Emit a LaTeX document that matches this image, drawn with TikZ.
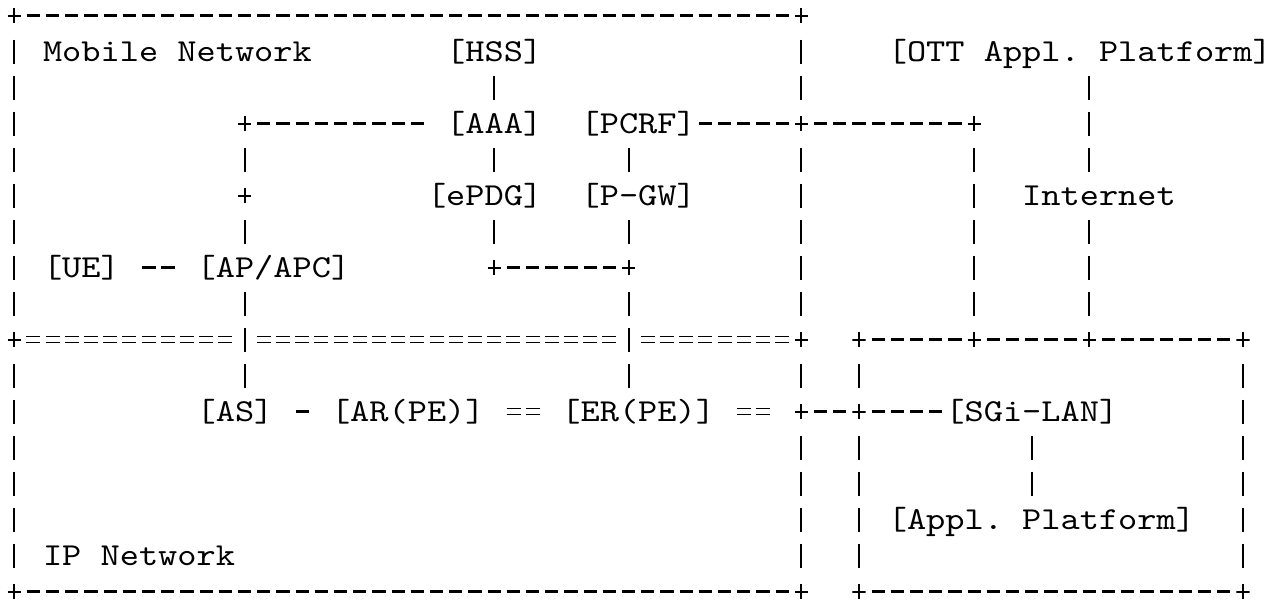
\documentclass[tikz,border=0pt]{standalone}
\usepackage{fontspec}
\usetikzlibrary{decorations.markings}

\newfontfamily\asciifont[FakeStretch=1.142857]{lmmono10-regular.otf}

\tikzset{
    txt/.style={font=\asciifont\fontsize{24pt}{27pt}\selectfont\frenchspacing, inner sep=0pt, text height=14.7pt, text depth=0pt},
    jn/.style={inner sep=0pt, minimum width=10pt, minimum height=11.5pt, path picture={\draw[line width=1.5pt] (path picture bounding box.west) -- (path picture bounding box.east) (path picture bounding box.north) -- (path picture bounding box.south);}},
    dashrun/.style={decoration={markings, mark=between positions 14.4pt and -4.3pt step 14.4pt with {\draw[line width=1.8pt] (-5pt,0) -- (5pt,0);}}, decorate},
    barrun/.style={decoration={markings, mark=between positions 27pt and -8pt step 27pt with {\draw[line width=1.5pt] (-9pt,0) -- (9pt,0);}}, decorate},
    eqrun/.style={decoration={markings, mark=between positions 14.4pt and -4.3pt step 14.4pt with {\draw[line width=1.2pt] (-5.25pt,2.25pt) -- (5.25pt,2.25pt) (-5.25pt,-2.25pt) -- (5.25pt,-2.25pt);}}, decorate}
}

\begin{document}
\begin{tikzpicture}[x=14.4pt, y=-27pt]
        \useasboundingbox[fill=white] (-0.7396,-0.4306) rectangle (65.458,16.236);
        % corners and junctions
        \node[jn] (mob_tl) at (0,0) {};
        \node[jn] (mob_tr) at (41,0) {};
        \node[jn] (aaa_l) at (12,3) {};
        \node[jn] (pcrf_r) at (41,3) {};
        \node[jn] (inet_l) at (50,3) {};
        \node[jn] (ap_up) at (12,5) {};
        \node[jn] (epdg_b) at (25,7) {};
        \node[jn] (pgw_b) at (32,7) {};
        \node[jn] (mob_bl) at (0,9) {};
        \node[jn] (mob_br) at (41,9) {};
        \node[jn] (lan_tl) at (44,9) {};
        \node[jn] (lan_t1) at (50,9) {};
        \node[jn] (lan_t2) at (56,9) {};
        \node[jn] (lan_tr) at (64,9) {};
        \node[jn] (er_r) at (41,11) {};
        \node[jn] (sgi_l) at (44,11) {};
        \node[jn] (ip_bl) at (0,16) {};
        \node[jn] (ip_br) at (41,16) {};
        \node[jn] (lan_bl) at (44,16) {};
        \node[jn] (lan_br) at (64,16) {};
        \coordinate (x_ap) at (12,9);
        \coordinate (x_pgw) at (32,9);
        % labels
        \node[txt] (mob_net) at (8.5,1) {Mobile Network};
        \node[txt] (hss) at (25,1) {[HSS]};
        \node[txt] (ott) at (55.5,1) {[OTT Appl. Platform]};
        \node[txt] (aaa) at (25,3) {[AAA]};
        \node[txt] (pcrf) at (32.5,3) {[PCRF]};
        \node[txt] (epdg) at (24.5,5) {[ePDG]};
        \node[txt] (p_gw) at (32.5,5) {[P-GW]};
        \node[txt] (inet) at (56.5,5) {Internet};
        \node[txt] (ue) at (3.5,7) {[UE]};
        \node[txt] (ap_apc) at (13.5,7) {[AP/APC]};
        \node[txt] (as_srv) at (11.5,11) {[AS]};
        \node[txt] (ar_pe) at (20.5,11) {[AR(PE)]};
        \node[txt] (er_pe) at (32.5,11) {[ER(PE)]};
        \node[txt] (sgi_lan) at (53,11) {[SGi-LAN]};
        \node[txt] (appl_pf) at (53.5,14) {[Appl. Platform]};
        \node[txt] (ip_net) at (6.5,15) {IP Network};
        % - runs
        \draw[dashrun] (mob_tl.center) -- (mob_tr.center);
        \draw[dashrun] (aaa_l.center) -- ([xshift=-14.4pt]aaa.west);
        \draw[dashrun] (pcrf_r.center) -- (pcrf.east);
        \draw[dashrun] (pcrf_r.center) -- (inet_l.center);
        \draw[dashrun] ([xshift=7.2pt]ue.east) -- ([xshift=-14.4pt]ap_apc.west);
        \draw[dashrun] (epdg_b.center) -- (pgw_b.center);
        \draw[dashrun] (lan_tl.center) -- (lan_t1.center);
        \draw[dashrun] (lan_t1.center) -- (lan_t2.center);
        \draw[dashrun] (lan_t2.center) -- (lan_tr.center);
        \draw[dashrun] ([xshift=7.2pt]as_srv.east) -- ([xshift=-14.4pt]ar_pe.west);
        \draw[dashrun] (er_r.center) -- (sgi_l.center);
        \draw[dashrun] (sgi_l.center) -- (sgi_lan.west);
        \draw[dashrun] (ip_bl.center) -- (ip_br.center);
        \draw[dashrun] (lan_bl.center) -- (lan_br.center);
        % = runs
        \draw[eqrun] (mob_bl.center) -- (x_ap);
        \draw[eqrun] (x_ap) -- (x_pgw);
        \draw[eqrun] (x_pgw) -- (mob_br.center);
        \draw[eqrun] ([xshift=7.2pt]ar_pe.east) -- ([xshift=-14.4pt]er_pe.west);
        \draw[eqrun] ([xshift=7.2pt]er_pe.east) -- ([xshift=-14.4pt]er_r.center);
        % | runs
        \draw[barrun] (mob_tl.center) -- (mob_bl.center);
        \draw[barrun] (mob_bl.center) -- (ip_bl.center);
        \draw[barrun] (mob_tr.center) -- (pcrf_r.center);
        \draw[barrun] (pcrf_r.center) -- (mob_br.center);
        \draw[barrun] (mob_br.center) -- (er_r.center);
        \draw[barrun] (er_r.center) -- (ip_br.center);
        \draw[barrun] (lan_tl.center) -- (sgi_l.center);
        \draw[barrun] (sgi_l.center) -- (lan_bl.center);
        \draw[barrun] (lan_tr.center) -- (lan_br.center);
        \draw[barrun] (inet_l.center) -- (lan_t1.center);
        \draw[barrun] ([xshift=7.2pt]ott.center) -- ([xshift=-7.2pt]inet.center);
        \draw[barrun] ([xshift=-7.2pt]inet.center) -- (lan_t2.center);
        \draw[barrun] (hss.center) -- (aaa.center);
        \draw[barrun] (aaa.center) -- ([xshift=7.2pt]epdg.center);
        \draw[barrun] ([xshift=7.2pt]epdg.center) -- (epdg_b.center);
        \draw[barrun] ([xshift=-7.2pt]pcrf.center) -- ([xshift=-7.2pt]p_gw.center);
        \draw[barrun] ([xshift=-7.2pt]p_gw.center) -- (pgw_b.center);
        \draw[barrun] (pgw_b.center) -- ([xshift=-7.2pt]er_pe.center);
        \draw[barrun] (aaa_l.center) -- (ap_up.center);
        \draw[barrun] (ap_up.center) -- ([xshift=-21.6pt]ap_apc.center);
        \draw[barrun] ([xshift=-21.6pt]ap_apc.center) -- ([xshift=7.2pt]as_srv.center);
        \draw[barrun] (sgi_lan.center) -- ([xshift=-7.2pt]appl_pf.center);
\end{tikzpicture}
\end{document}
